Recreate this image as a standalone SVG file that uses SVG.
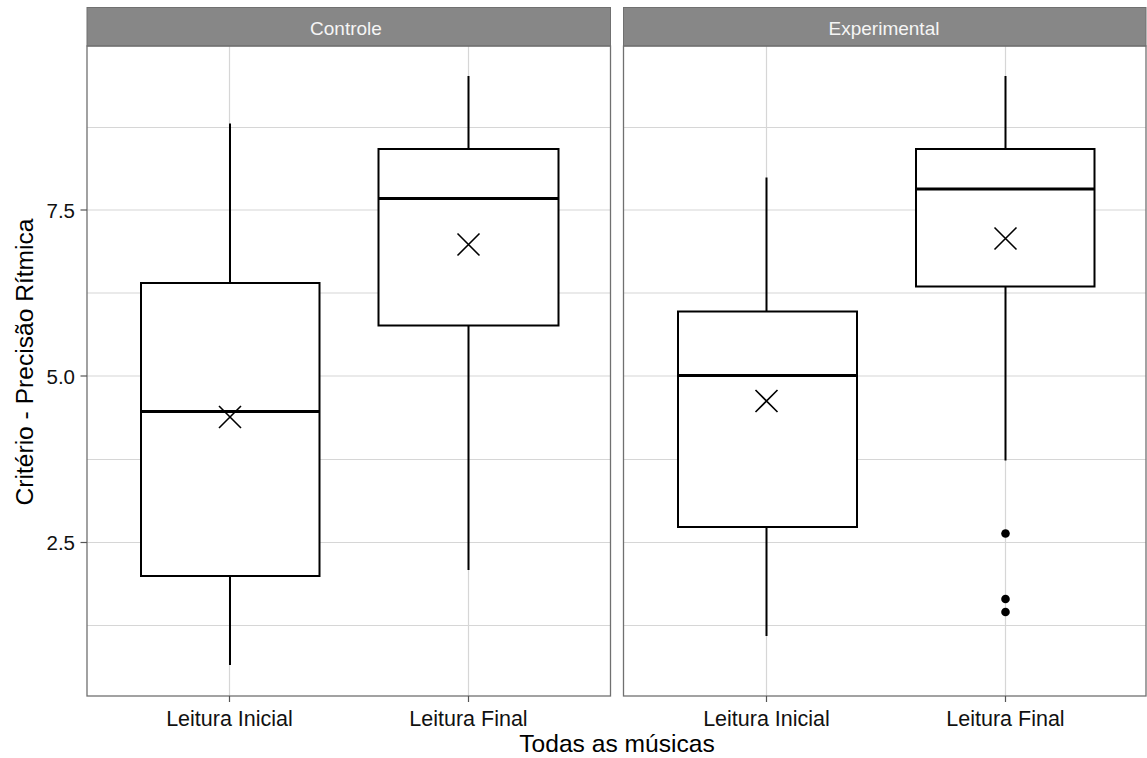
<svg xmlns="http://www.w3.org/2000/svg" width="1147" height="758" viewBox="0 0 1147 758">
<style>
.bg{fill:#ffffff}
.grid{stroke:#d6d6d6;stroke-width:1.2;fill:none}
.border{fill:none;stroke:#707070;stroke-width:1.3}
.strip{fill:#878787;stroke:#707070;stroke-width:1}
.striptxt{font-family:"Liberation Sans",Arial,sans-serif;font-size:19px;fill:#f5f5f5;text-anchor:middle}
.tick{stroke:#555555;stroke-width:1.2}
.ytick{font-family:"Liberation Sans",Arial,sans-serif;font-size:20.5px;fill:#111111;text-anchor:end}
.xtick{font-family:"Liberation Sans",Arial,sans-serif;font-size:21.5px;fill:#111111;text-anchor:middle}
.title{font-family:"Liberation Sans",Arial,sans-serif;font-size:24.6px;fill:#000000;text-anchor:middle}
.box{fill:#ffffff;stroke:#000000;stroke-width:2}
.whisker{stroke:#000000;stroke-width:2}
.median{stroke:#000000;stroke-width:3.2}
.mean{stroke:#000000;stroke-width:1.6;fill:none}
.outlier{fill:#000000}
</style>
<rect class="bg" x="0" y="0" width="1147" height="758"/>

<g id="panel-controle">
  <rect class="bg" x="87" y="46" width="523.5" height="650"/>
  <g class="grid">
    <line x1="87" y1="127.5" x2="610.5" y2="127.5"/>
    <line x1="87" y1="210" x2="610.5" y2="210"/>
    <line x1="87" y1="293" x2="610.5" y2="293"/>
    <line x1="87" y1="376" x2="610.5" y2="376"/>
    <line x1="87" y1="459.5" x2="610.5" y2="459.5"/>
    <line x1="87" y1="542.5" x2="610.5" y2="542.5"/>
    <line x1="87" y1="625.5" x2="610.5" y2="625.5"/>
    <line x1="229.5" y1="46" x2="229.5" y2="696"/>
    <line x1="468.5" y1="46" x2="468.5" y2="696"/>
  </g>
  <rect class="strip" x="87" y="7.5" width="523.5" height="38.5"/>
  <text class="striptxt" x="346" y="35">Controle</text>
</g>

<g id="panel-experimental">
  <rect class="bg" x="623.5" y="46" width="522.5" height="650"/>
  <g class="grid">
    <line x1="623.5" y1="127.5" x2="1146" y2="127.5"/>
    <line x1="623.5" y1="210" x2="1146" y2="210"/>
    <line x1="623.5" y1="293" x2="1146" y2="293"/>
    <line x1="623.5" y1="376" x2="1146" y2="376"/>
    <line x1="623.5" y1="459.5" x2="1146" y2="459.5"/>
    <line x1="623.5" y1="542.5" x2="1146" y2="542.5"/>
    <line x1="623.5" y1="625.5" x2="1146" y2="625.5"/>
    <line x1="766.5" y1="46" x2="766.5" y2="696"/>
    <line x1="1005.5" y1="46" x2="1005.5" y2="696"/>
  </g>
  <rect class="strip" x="623.5" y="7.5" width="522.5" height="38.5"/>
  <text class="striptxt" x="884" y="35">Experimental</text>
</g>

<g id="box-controle-inicial">
  <line class="whisker" x1="230" y1="123.5" x2="230" y2="283"/>
  <line class="whisker" x1="230" y1="576" x2="230" y2="665"/>
  <rect class="box" x="141" y="283" width="178.5" height="293"/>
  <line class="median" x1="141" y1="411.5" x2="319.5" y2="411.5"/>
  <path class="mean" d="M219,406 L241,428 M241,406 L219,428"/>
</g>

<g id="box-controle-final">
  <line class="whisker" x1="468.5" y1="76" x2="468.5" y2="149"/>
  <line class="whisker" x1="468.5" y1="325.5" x2="468.5" y2="570"/>
  <rect class="box" x="378.5" y="149" width="180" height="176.5"/>
  <line class="median" x1="378.5" y1="198.5" x2="558.5" y2="198.5"/>
  <path class="mean" d="M457.5,233.5 L479.5,255.5 M479.5,233.5 L457.5,255.5"/>
</g>

<g id="box-experimental-inicial">
  <line class="whisker" x1="766.5" y1="177.5" x2="766.5" y2="311.5"/>
  <line class="whisker" x1="766.5" y1="527" x2="766.5" y2="636"/>
  <rect class="box" x="678" y="311.5" width="179" height="215.5"/>
  <line class="median" x1="678" y1="375.5" x2="857" y2="375.5"/>
  <path class="mean" d="M755.5,390 L777.5,412 M777.5,390 L755.5,412"/>
</g>

<g id="box-experimental-final">
  <line class="whisker" x1="1005.5" y1="76" x2="1005.5" y2="149"/>
  <line class="whisker" x1="1005.5" y1="286.5" x2="1005.5" y2="460.5"/>
  <rect class="box" x="916" y="149" width="178.5" height="137.5"/>
  <line class="median" x1="916" y1="189" x2="1094.5" y2="189"/>
  <path class="mean" d="M994.5,227.5 L1016.5,249.5 M1016.5,227.5 L994.5,249.5"/>
  <circle class="outlier" cx="1005.5" cy="533.5" r="4.3"/>
  <circle class="outlier" cx="1005.5" cy="599" r="4.3"/>
  <circle class="outlier" cx="1005.5" cy="612" r="4.3"/>
</g>

<g id="borders">
  <rect class="border" x="87" y="46" width="523.5" height="650"/>
  <rect class="border" x="623.5" y="46" width="522.5" height="650"/>
</g>

<g id="axes">
  <g class="tick">
    <line x1="80.5" y1="210" x2="87" y2="210"/>
    <line x1="80.5" y1="376" x2="87" y2="376"/>
    <line x1="80.5" y1="542.5" x2="87" y2="542.5"/>
    <line x1="229.5" y1="696" x2="229.5" y2="702"/>
    <line x1="468.5" y1="696" x2="468.5" y2="702"/>
    <line x1="766.5" y1="696" x2="766.5" y2="702"/>
    <line x1="1005.5" y1="696" x2="1005.5" y2="702"/>
  </g>
  <text class="ytick" x="75" y="217.5">7.5</text>
  <text class="ytick" x="75" y="383.5">5.0</text>
  <text class="ytick" x="75" y="550">2.5</text>
  <text class="xtick" x="229.5" y="726">Leitura Inicial</text>
  <text class="xtick" x="468.5" y="726">Leitura Final</text>
  <text class="xtick" x="766.5" y="726">Leitura Inicial</text>
  <text class="xtick" x="1005.5" y="726">Leitura Final</text>
  <text class="title" x="617" y="752">Todas as músicas</text>
  <text class="title" transform="translate(33,362) rotate(-90)">Critério - Precisão Rítmica</text>
</g>
</svg>
